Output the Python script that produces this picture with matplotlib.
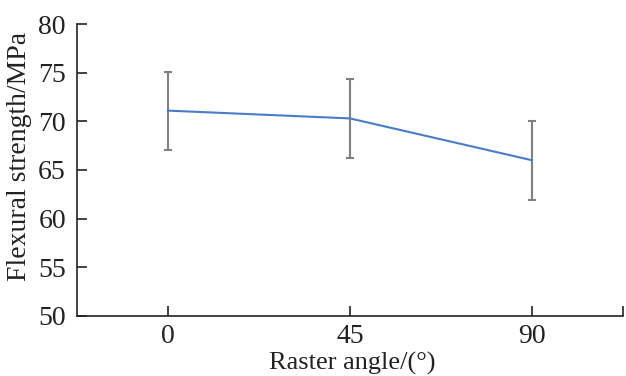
import matplotlib.pyplot as plt

angles = ['0', '45', '90']
strength = [71.1, 70.3, 66.0]
err = [4.0, 4.1, 4.05]

plt.rcParams['font.family'] = ['Liberation Serif', 'DejaVu Serif']

fig = plt.figure(figsize=(6.26, 3.76), dpi=100)
ax = fig.add_axes([0.123, 0.160, 0.872, 0.776])

x = range(len(angles))
ax.errorbar(x, strength, yerr=err, fmt='none', ecolor='#808080',
            elinewidth=1.5, capsize=3, capthick=1.5, zorder=2)
ax.plot(x, strength, color='#4a7cc4', lw=1.5, zorder=3)

ax.set_xlim(-0.5, 2.5)
ax.set_ylim(50, 80)
ax.set_xticks(list(x))
ax.set_xticklabels(angles)
ax.set_xticks([2.5], minor=True)
ax.set_yticks([50, 55, 60, 65, 70, 75, 80])

ax.spines['right'].set_visible(False)
ax.spines['top'].set_visible(False)
ax.spines['left'].set_color('#222222')
ax.spines['bottom'].set_color('#222222')
ax.spines['left'].set_linewidth(1.2)
ax.spines['bottom'].set_linewidth(1.2)

ax.tick_params(axis='both', which='both', direction='in', length=7, width=1.2,
               color='#222222', labelsize=20, labelcolor='#222222')
ax.tick_params(axis='x', pad=6)
ax.tick_params(axis='y', pad=8)

ax.set_xlabel('Raster angle/(°)', fontsize=19, color='#222222')
ax.set_ylabel('Flexural strength/MPa', fontsize=20, color='#222222')
ax.xaxis.set_label_coords(0.505, -0.125)
ax.yaxis.set_label_coords(-0.083, 0.548)

fig.savefig('out.png', dpi=100)
